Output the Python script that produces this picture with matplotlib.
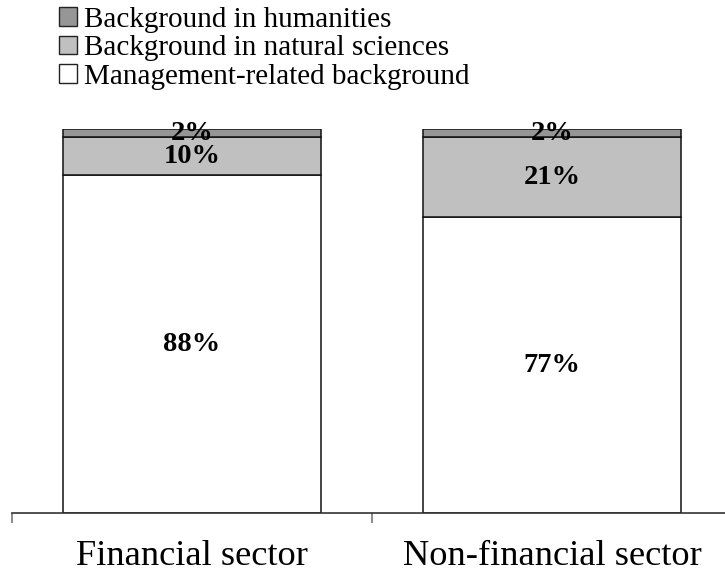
import matplotlib
matplotlib.use('Agg')
import matplotlib.pyplot as plt
import numpy as np

plt.rcParams['font.family'] = ['Liberation Serif', 'DejaVu Serif']

# Chart data
sectors = ['Financial sector', 'Non-financial sector']
management = [88, 77]
natural_sciences = [10, 21]
humanities = [2, 2]

series = [
    ('Management-related background', management, '#ffffff'),
    ('Background in natural sciences', natural_sciences, '#c0c0c0'),
    ('Background in humanities', humanities, '#969696'),
]

fig = plt.figure(figsize=(7.25, 5.72), dpi=100)
ax = fig.add_axes([12/725, 59.3/572, 720/725, 383.4/572])

x = np.arange(len(sectors))
bottom = np.zeros(len(sectors))
handles = []
for name, values, color in series:
    bars = ax.bar(x, values, width=0.714, bottom=bottom, color=color,
                  edgecolor='#111111', linewidth=1.1, label=name)
    handles.append(bars)
    # percentage labels in the middle of each segment
    for xi, b, v in zip(x, bottom, values):
        ax.text(xi, b + v / 2, f'{v}%', ha='center', va='center',
                fontsize=20.5, fontweight='bold', color='black')
    bottom = bottom + np.array(values)

ax.set_xlim(-0.5, 1.5)
ax.set_ylim(0, 100)

for side in ['left', 'right', 'top']:
    ax.spines[side].set_visible(False)
ax.spines['bottom'].set_color('#333333')
ax.spines['bottom'].set_linewidth(1.2)

ax.set_yticks([])
ax.set_xticks(x)
ax.set_xticklabels(sectors, fontsize=26.2)
ax.tick_params(axis='x', which='major', length=0, pad=19.5)
ax.set_xticks([-0.5, 0.5, 1.5], minor=True)
ax.tick_params(axis='x', which='minor', length=7.5, width=1.2, color='#777777',
               direction='out')

leg = fig.legend(handles=handles[::-1], labels=[s[0] for s in series][::-1],
                 loc='upper left', bbox_to_anchor=(59/725, 1 - 7/572),
                 frameon=False, fontsize=21, handlelength=0.6, handleheight=0.6,
                 handletextpad=0.25, labelspacing=0.08, borderpad=0,
                 borderaxespad=0)
for h in leg.legend_handles:
    h.set_edgecolor('#222222')
    h.set_linewidth(1.0)

fig.savefig('out.png', dpi=100)
